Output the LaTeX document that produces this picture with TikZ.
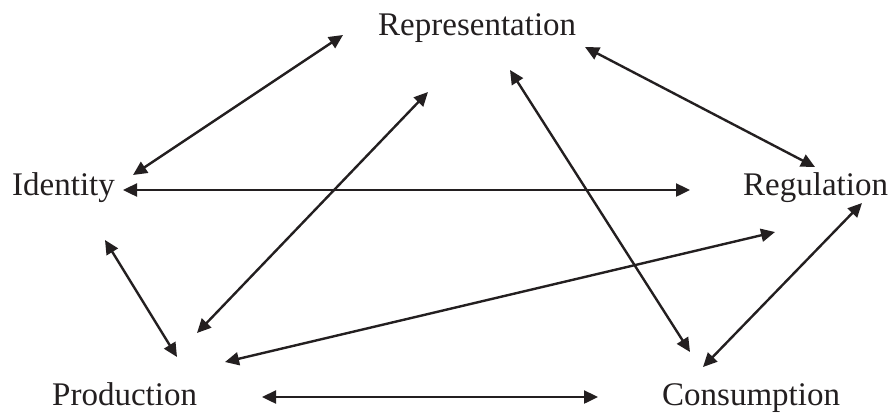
\documentclass[tikz,border=0pt]{standalone}
\usepackage{fontspec}
\setmainfont{Liberation Serif}
\usepackage{tikz}
\usetikzlibrary{positioning,calc}
\usetikzlibrary{arrows.meta}
\definecolor{InkBlack}{RGB}{35,31,32}
\tikzset{
  term/.style={anchor=base west,inner sep=0pt,text=InkBlack,font=\fontsize{33}{40}\selectfont},
  link/.style={draw=InkBlack,line width=2.4pt,{Triangle[length=14pt,width=13pt]}-{Triangle[length=14pt,width=13pt]}},
}

\begin{document}
\begin{tikzpicture}[x=1pt,y=-1pt]
\useasboundingbox (0,0) rectangle (890,413);
\node[term] (rep) at (378,35) {Representation};
\node[term] (iden) at (12,195) {Identity};
\node[term] (reg) at (743,195) {Regulation};
\node[term] (prod) at (52,405) {Production};
\node[term] (cons) at (662,405) {Consumption};
% arrows, ends set off from the text baselines
\draw[link] ([shift={(-35,0)}]rep.base west) -- ([shift={(121,-20)}]iden.base west);
\draw[link] ([shift={(50,57)}]rep.base west) -- ([shift={(145,-72)}]prod.base west);
\draw[link] ([shift={(132,35)}]rep.base west) -- ([shift={(28,-53)}]cons.base west);
\draw[link] ([shift={(207,12)}]rep.base west) -- ([shift={(72,-28)}]reg.base west);
\draw[link] ([shift={(111,-5)}]iden.base west) -- ([shift={(-53,-5)}]reg.base west);
\draw[link] ([shift={(93,45)}]iden.base west) -- ([shift={(125,-48)}]prod.base west);
\draw[link] ([shift={(173,-43)}]prod.base west) -- ([shift={(32,37)}]reg.base west);
\draw[link] ([shift={(210,-8)}]prod.base west) -- ([shift={(-64,-8)}]cons.base west);
\draw[link] ([shift={(119,8)}]reg.base west) -- ([shift={(41,-38)}]cons.base west);
\end{tikzpicture}
\end{document}
